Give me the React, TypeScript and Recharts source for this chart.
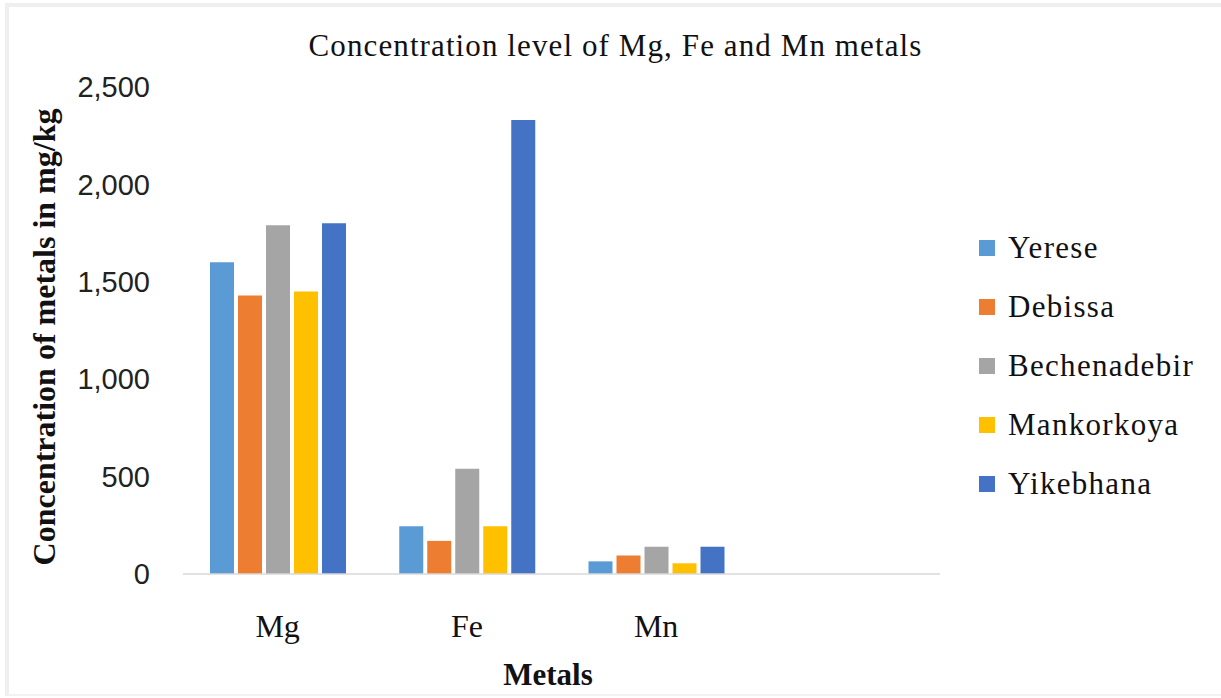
import { BarChart, Bar, XAxis, YAxis, Label } from "recharts";

const metals = ["Mg", "Fe", "Mn", ""];
const yerese = [1600, 245, 65, null];
const debissa = [1430, 170, 95, null];
const bechenadebir = [1790, 540, 140, null];
const mankorkoya = [1450, 245, 55, null];
const yikebhana = [1800, 2330, 140, null];
const yTicks = [0, 500, 1000, 1500, 2000, 2500];

const SERIES = [
  { key: "Yerese", values: yerese, color: "#5B9BD5" },
  { key: "Debissa", values: debissa, color: "#ED7D31" },
  { key: "Bechenadebir", values: bechenadebir, color: "#A5A5A5" },
  { key: "Mankorkoya", values: mankorkoya, color: "#FFC000" },
  { key: "Yikebhana", values: yikebhana, color: "#4472C4" },
];

const SERIF = '"Liberation Serif", "Times New Roman", serif';
const SANS = '"Liberation Sans", Arial, sans-serif';

const data = metals.map((m, i) => {
  const row: Record<string, string | number | null> = { metal: m };
  for (const s of SERIES) row[s.key] = s.values[i];
  return row;
});

// legend sits outside the chart so it doesn't eat plot width
function LegendBox() {
  return (
    <div style={{ position: "absolute", left: 979, top: 218, fontFamily: SERIF, fontSize: 31, color: "#111" }}>
      {SERIES.map(s => (
        <div key={s.key} style={{ display: "flex", alignItems: "center", height: 59 }}>
          <span style={{ width: 16, height: 16, background: s.color, display: "inline-block", marginRight: 13 }} />
          <span style={{ letterSpacing: 1.3 }}>{s.key}</span>
        </div>
      ))}
    </div>
  );
}

export default function App() {
  return (
    <div style={{ position: "absolute", left: 0, top: 0, width: 1221, height: 698, background: "#fff" }}>
      <div
        style={{
          position: "absolute", left: 5, top: 3, width: 1216, height: 693,
          borderTop: "4px solid #efefef", borderLeft: "4px solid #efefef", borderBottom: "2px solid #f2f2f2",
          boxSizing: "border-box",
        }}
      />
      <div
        style={{
          position: "absolute", left: 0, width: 1221, top: 28, textAlign: "center",
          fontFamily: SERIF, fontSize: 31, letterSpacing: 1.1, color: "#111", paddingLeft: 5,
        }}
      >
        Concentration level of Mg, Fe and Mn metals
      </div>
      <BarChart
        width={1221}
        height={698}
        data={data}
        margin={{ top: 87, right: 281, bottom: 0, left: 0 }}
        barCategoryGap={27}
        barGap={4}
        style={{ position: "absolute", left: 0, top: 0 }}
      >
        <XAxis
          dataKey="metal"
          height={124}
          tickLine={false}
          tickSize={0}
          tickMargin={40}
          axisLine={{ stroke: "#d9d9d9", strokeWidth: 1.5 }}
          tick={{ fontFamily: SERIF, fontSize: 32, fill: "#111" }}
        >
          <Label
            content={() => (
              <text x={548} y={685} textAnchor="middle" fontFamily={SERIF} fontSize={31} fontWeight="bold" fill="#111">
                Metals
              </text>
            )}
          />
        </XAxis>
        <YAxis
          width={183}
          domain={[0, 2500]}
          ticks={yTicks}
          interval={0}
          axisLine={false}
          tickLine={false}
          tickSize={0}
          tickMargin={33}
          tickFormatter={(v: number) => v.toLocaleString("en-US")}
          tick={{ fontFamily: SANS, fontSize: 29, fill: "#222" }}
        >
          <Label
            content={() => (
              <text
                x={55}
                y={337}
                textAnchor="middle"
                transform="rotate(-90 55 337)"
                fontFamily={SERIF}
                fontSize={32}
                fontWeight="bold"
                fill="#111"
              >
                Concentration of metals in mg/kg
              </text>
            )}
          />
        </YAxis>
        {SERIES.map(s => (
          <Bar key={s.key} dataKey={s.key} fill={s.color} isAnimationActive={false} />
        ))}
      </BarChart>
      <LegendBox />
    </div>
  );
}
